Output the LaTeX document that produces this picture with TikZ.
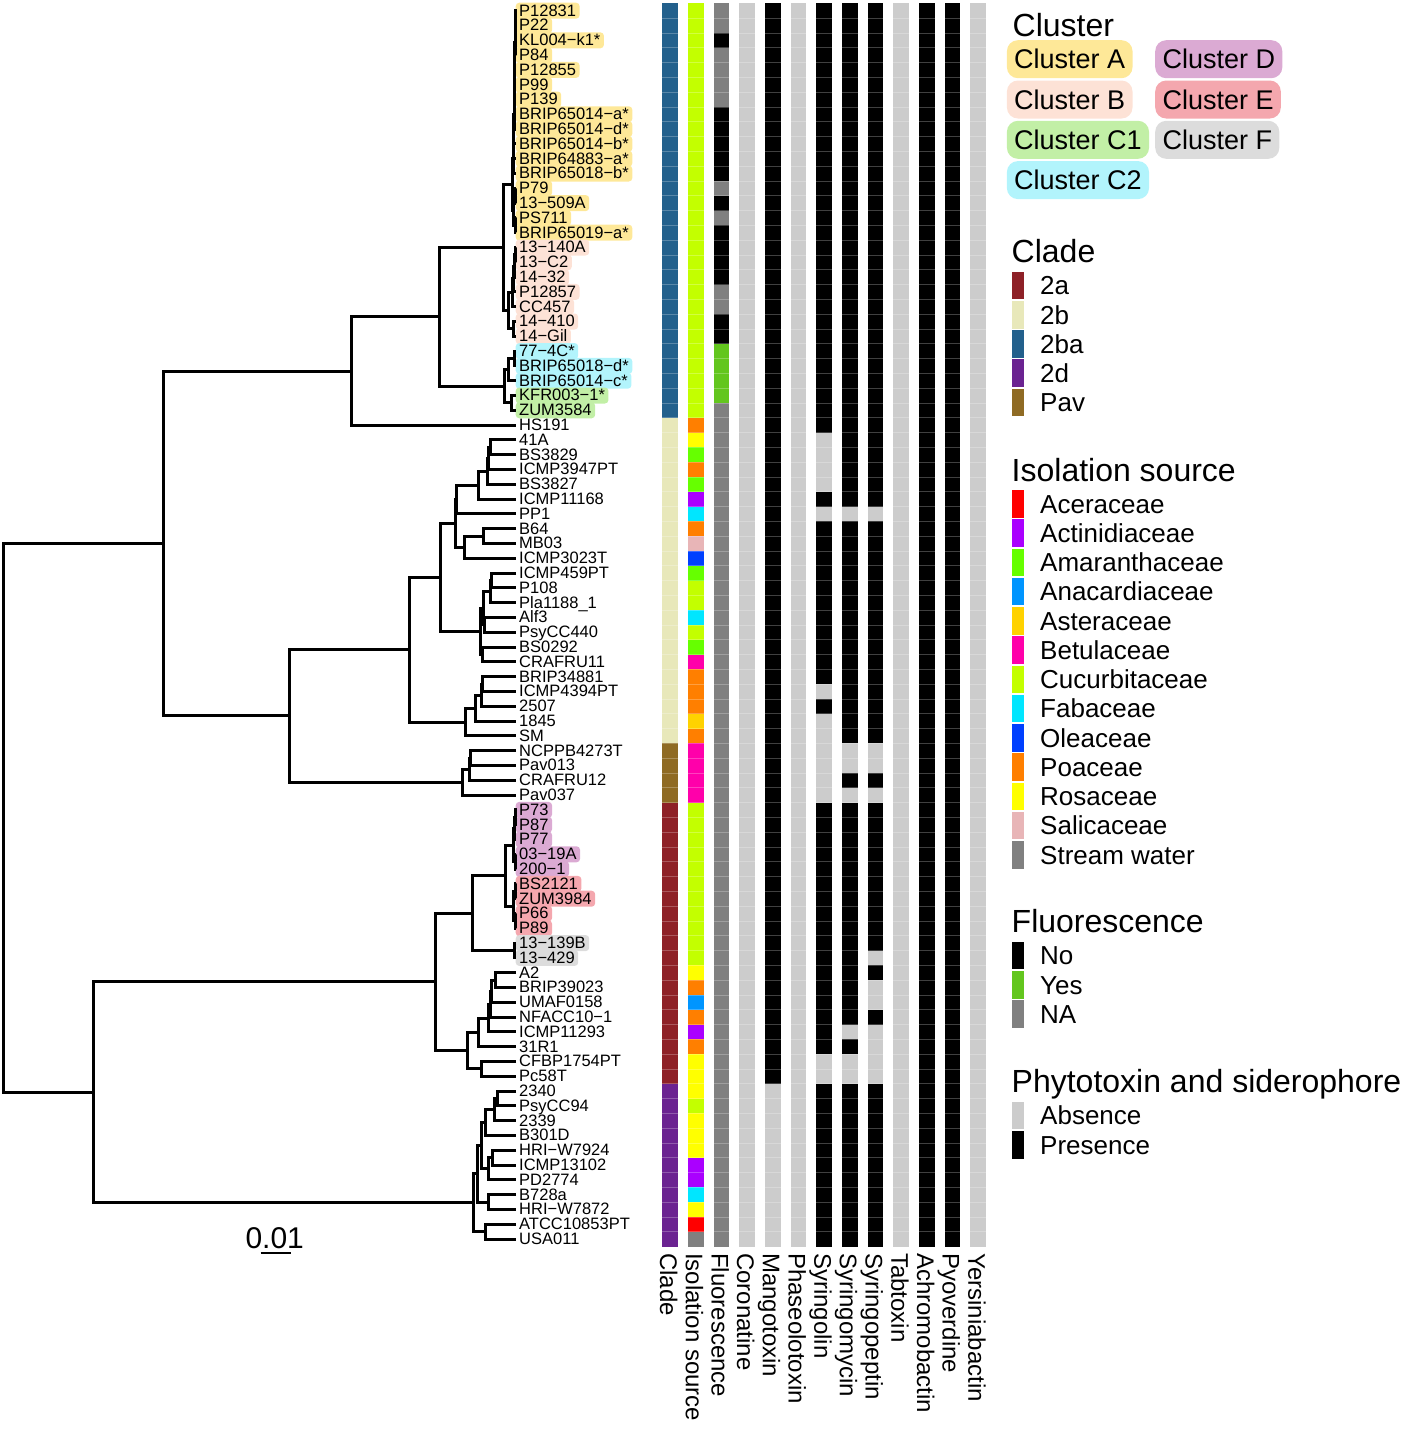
\documentclass[tikz,border=0pt]{standalone}
\usepackage{fontspec}
\setmainfont{Liberation Sans}
\usetikzlibrary{calc}
% cluster highlights
\definecolor{hlA}{HTML}{FEE898}
\definecolor{hlB}{HTML}{FDE2D6}
\definecolor{hlCa}{HTML}{C2EFA6}
\definecolor{hlCb}{HTML}{B2F4FC}
\definecolor{hlD}{HTML}{DBAAD3}
\definecolor{hlE}{HTML}{F4A7AE}
\definecolor{hlF}{HTML}{DCDCDC}
% clade
\definecolor{cdA}{HTML}{8E2127}
\definecolor{cdB}{HTML}{E8E8BA}
\definecolor{cdBA}{HTML}{23608C}
\definecolor{cdD}{HTML}{6B2391}
\definecolor{cdPav}{HTML}{8F6B24}
% isolation source
\definecolor{srcAce}{HTML}{FF0000}
\definecolor{srcAct}{HTML}{AA00FF}
\definecolor{srcAma}{HTML}{66FF00}
\definecolor{srcAna}{HTML}{0095FF}
\definecolor{srcAst}{HTML}{FFD200}
\definecolor{srcBet}{HTML}{FF00AA}
\definecolor{srcCuc}{HTML}{C3FF00}
\definecolor{srcFab}{HTML}{00E6FF}
\definecolor{srcOle}{HTML}{0040FF}
\definecolor{srcPoa}{HTML}{FF7F00}
\definecolor{srcRos}{HTML}{FFFF00}
\definecolor{srcSal}{HTML}{E8B5B7}
\definecolor{srcStr}{HTML}{808080}
% fluorescence, toxins
\definecolor{flNo}{HTML}{000000}
\definecolor{flYes}{HTML}{63C61E}
\definecolor{flNA}{HTML}{808080}
\definecolor{txAbs}{HTML}{CCCCCC}
\definecolor{txPre}{HTML}{000000}
\tikzset{
  branch/.style={line width=3pt,line join=miter},
  leaf/.style={anchor=west,font=\fontsize{16.5}{18}\selectfont,inner xsep=3.5pt,inner ysep=1.5pt,text height=11.8pt,text depth=1.2pt,rounded corners=3.5pt},
  collbl/.style={rotate=-90,anchor=west,font=\fontsize{24}{26}\selectfont,inner sep=0pt,text height=17.2pt,text depth=0pt},
  ttl/.style={anchor=base west,font=\fontsize{32}{34}\selectfont,inner sep=0pt},
  itm/.style={anchor=west,font=\fontsize{26}{28}\selectfont,inner sep=0pt,text height=18.6pt,text depth=0pt},
  key/.style={anchor=west,minimum width=11.6pt,minimum height=27.6pt,inner sep=0pt},
  pill/.style={anchor=west,rounded corners=11pt,minimum height=38pt,inner xsep=7.3pt,inner ysep=0pt,font=\fontsize{27}{30}\selectfont,text height=19.3pt,text depth=0pt},
  sep/.style={draw=white,draw opacity=0.25,line width=0.7pt},
}
% internal node of the tree: name, x, two children
\newcommand\clade[4]{%
  \path ($(#3)!0.5!(#4)$) coordinate (#1m);
  \coordinate (#1) at (#2,0 |- #1m);
  \draw[branch] (#3) -| (#1) |- (#4);
}
% heatmap run: column, first row, last row, colour
\newcommand\hmseg[4]{\fill[fill=#4] ({662.3+(#1-1)*25.68},{3.3+(#2-1)*14.8}) rectangle ++(15.6,{(#3-#2+1)*14.8});}
\begin{document}
\begin{tikzpicture}[x=1pt,y=-1pt]
  \useasboundingbox (0,0) rectangle (1416,1430);
  % heatmap
  \foreach \a/\b/\cc in {1/28/cdBA,29/50/cdB,51/54/cdPav,55/73/cdA,74/84/cdD} {\hmseg{1}{\a}{\b}{\cc}}
  \foreach \a/\b/\cc in {1/28/srcCuc,29/29/srcPoa,30/30/srcRos,31/31/srcAma,32/32/srcPoa,33/33/srcAma,34/34/srcAct,35/35/srcFab,36/36/srcPoa,37/37/srcSal,38/38/srcOle,39/39/srcAma,40/41/srcCuc,42/42/srcFab,43/43/srcCuc,44/44/srcAma,45/45/srcBet,46/48/srcPoa,49/49/srcAst,50/50/srcPoa,51/54/srcBet,55/65/srcCuc,66/66/srcRos,67/67/srcPoa,68/68/srcAna,69/69/srcPoa,70/70/srcAct,71/71/srcPoa,72/74/srcRos,75/75/srcCuc,76/78/srcRos,79/80/srcAct,81/81/srcFab,82/82/srcRos,83/83/srcAce,84/84/srcStr} {\hmseg{2}{\a}{\b}{\cc}}
  \foreach \a/\b/\cc in {1/2/flNA,3/3/flNo,4/7/flNA,8/12/flNo,13/13/flNA,14/14/flNo,15/15/flNA,16/19/flNo,20/21/flNA,22/23/flNo,24/27/flYes,28/84/flNA} {\hmseg{3}{\a}{\b}{\cc}}
  \foreach \k/\cc in {4/txAbs,5/txPre,6/txAbs,7/txPre,8/txPre,9/txPre,10/txAbs,11/txPre,12/txPre,13/txAbs} {\hmseg{\k}{1}{84}{\cc}}
  \foreach \k/\a/\b in {5/74/84,7/30/33,7/35/35,7/47/47,7/49/54,7/72/73,8/35/35,8/51/52,8/54/54,8/70/70,8/72/73,9/35/35,9/51/52,9/54/54,9/65/65,9/67/68,9/70/73} {\hmseg{\k}{\a}{\b}{txAbs}}
  \foreach \k in {1,...,13} \foreach \r in {1,...,83} \draw[sep] ({662.3+(\k-1)*25.68},{3.3+\r*14.8}) -- ++(15.6,0);
  % tips and labels
  \foreach \nm/\cl [count=\i] in {P12831/A,P22/A,KL004−k1*/A,P84/A,P12855/A,P99/A,P139/A,BRIP65014−a*/A,BRIP65014−d*/A,BRIP65014−b*/A,BRIP64883−a*/A,BRIP65018−b*/A,P79/A,13−509A/A,PS711/A,BRIP65019−a*/A,13−140A/B,13−C2/B,14−32/B,P12857/B,CC457/B,14−410/B,14−Gil/B,77−4C*/Cb,BRIP65018−d*/Cb,BRIP65014−c*/Cb,KFR003−1*/Ca,ZUM3584/Ca,HS191/N,41A/N,BS3829/N,ICMP3947PT/N,BS3827/N,ICMP11168/N,PP1/N,B64/N,MB03/N,ICMP3023T/N,ICMP459PT/N,P108/N,Pla1188\_1/N,Alf3/N,PsyCC440/N,BS0292/N,CRAFRU11/N,BRIP34881/N,ICMP4394PT/N,2507/N,1845/N,SM/N,NCPPB4273T/N,Pav013/N,CRAFRU12/N,Pav037/N,P73/D,P87/D,P77/D,03−19A/D,200−1/D,BS2121/E,ZUM3984/E,P66/E,P89/E,13−139B/F,13−429/F,A2/N,BRIP39023/N,UMAF0158/N,NFACC10−1/N,ICMP11293/N,31R1/N,CFBP1754PT/N,Pc58T/N,2340/N,PsyCC94/N,2339/N,B301D/N,HRI−W7924/N,ICMP13102/N,PD2774/N,B728a/N,HRI−W7872/N,ATCC10853PT/N,USA011/N} {
    \pgfmathsetmacro\yy{10.7+(\i-1)*14.8}
    \coordinate (t\i) at (516,\yy);
    \if\cl N
      \node[leaf] (l\i) at (515.5,\yy) {\nm};
    \else
      \node[leaf,fill=hl\cl] (l\i) at (515.5,\yy) {\nm};
    \fi
  }
  % clusters A and B
  \clade{a1}{515.5}{t1}{t2}
  \clade{a2}{515.3}{a1}{t3}
  \clade{a3}{515.1}{a2}{t4}
  \clade{a4}{514.9}{a3}{t5}
  \clade{a5}{514.7}{a4}{t6}
  \clade{a6}{514.5}{a5}{t7}
  \clade{a7}{514.3}{a6}{t8}
  \clade{a8}{514.1}{a7}{t9}
  \clade{a9}{513.9}{a8}{t10}
  \clade{a10}{513.7}{a9}{t11}
  \clade{a11}{513.5}{a10}{t12}
  \clade{a12}{515}{t13}{t14}
  \clade{a13}{515}{t15}{t16}
  \clade{a14}{513.5}{a12}{a13}
  \clade{clA}{512.5}{a11}{a14}
  \clade{b1}{515}{t17}{t18}
  \clade{b2}{514.5}{b1}{t19}
  \clade{b3}{513.5}{b2}{t20}
  \clade{b4}{512}{b3}{t21}
  \clade{b5}{513}{t22}{t23}
  \clade{clB}{508.5}{b4}{b5}
  \clade{nD}{503.3}{clA}{clB}
  % clusters C1, C2
  \clade{c1}{514}{t24}{t25}
  \clade{c2}{508.3}{c1}{t26}
  \clade{c3}{511.5}{t27}{t28}
  \clade{nE}{504}{c2}{c3}
  \clade{nC}{439.3}{nD}{nE}
  \clade{nB}{351.8}{nC}{t29}
  % clade 2b
  \clade{g1}{490}{t30}{t31}
  \clade{g2}{488}{g1}{t32}
  \clade{g3}{487}{g2}{t33}
  \clade{g4}{478.3}{g3}{t34}
  \clade{g5}{456.5}{g4}{t35}
  \clade{g6}{483.3}{t36}{t37}
  \clade{g7}{464.3}{g6}{t38}
  \clade{nI}{455}{g5}{g7}
  \clade{g8}{491.7}{t39}{t40}
  \clade{g9}{490}{g8}{t41}
  \clade{g10}{484.3}{t42}{t43}
  \clade{g11}{483.3}{g9}{g10}
  \clade{g12}{482.3}{t44}{t45}
  \clade{nJ}{480}{g11}{g12}
  \clade{nH}{440.7}{nI}{nJ}
  \clade{k1}{482.3}{t46}{t47}
  \clade{k2}{481}{k1}{t48}
  \clade{k3}{475}{k2}{t49}
  \clade{nK}{465}{k3}{t50}
  \clade{nG}{409.3}{nH}{nK}
  % Pav
  \clade{p1}{470.7}{t51}{t52}
  \clade{p2}{469.3}{p1}{t53}
  \clade{nL}{462.7}{p2}{t54}
  \clade{nF}{289.3}{nG}{nL}
  \clade{nA}{163.6}{nB}{nF}
  % clusters D, E, F and clade 2a
  \clade{d1}{515.5}{t55}{t56}
  \clade{d2}{514.5}{d1}{t57}
  \clade{d3}{515}{t58}{t59}
  \clade{clD}{513}{d2}{d3}
  \clade{e1}{515}{t60}{t61}
  \clade{e2}{515}{t62}{t63}
  \clade{clE}{513.5}{e1}{e2}
  \clade{o1}{505.5}{clD}{clE}
  \clade{clF}{514}{t64}{t65}
  \clade{nO}{472.6}{o1}{clF}
  \clade{q1}{495.8}{t66}{t67}
  \clade{q2}{491.5}{q1}{t68}
  \clade{q3}{490.7}{q2}{t69}
  \clade{q4}{488.6}{q3}{t70}
  \clade{q5}{478}{q4}{t71}
  \clade{q6}{481}{t72}{t73}
  \clade{nP}{467.5}{q5}{q6}
  \clade{nN}{435.9}{nO}{nP}
  % clade 2d
  \clade{r1}{497.9}{t74}{t75}
  \clade{r2}{494.5}{r1}{t76}
  \clade{r3}{485.2}{r2}{t77}
  \clade{r4}{492.8}{t78}{t79}
  \clade{r5}{488.6}{r4}{t80}
  \clade{r6}{481}{r3}{r5}
  \clade{r7}{488.6}{t81}{t82}
  \clade{r8}{477.5}{r6}{r7}
  \clade{r9}{485.2}{t83}{t84}
  \clade{nQ}{473.4}{r8}{r9}
  \clade{nM}{93.7}{nN}{nQ}
  \clade{root}{3.6}{nA}{nM}
  % column names
  \foreach \nm [count=\k] in {Clade,Isolation source,Fluorescence,Coronatine,Mangotoxin,Phaseolotoxin,Syringolin,Syringomycin,Syringopeptin,Tabtoxin,Achromobactin,Pyoverdine,Yersiniabactin}
    \node[collbl] (cn\k) at ({662.3+(\k-1)*25.68+6.5},1253) {\nm};
  % legend: cluster
  \node[ttl] (tCl) at (1012.5,36) {Cluster};
  \foreach \nm/\cl/\xx/\yy in {A/A/1006.7/59.2,B/B/1006.7/99.5,C1/Ca/1006.7/139.8,C2/Cb/1006.7/180.1,D/D/1155/59.2,E/E/1155/99.5,F/F/1155/139.8}
    \node[pill,fill=hl\cl] (k\cl) at (\xx,\yy) {Cluster \nm};
  % legend: clade
  \node[ttl] (tCd) at (1011.5,262) {Clade};
  \foreach \nm/\cc [count=\k] in {2a/cdA,2b/cdB,2ba/cdBA,2d/cdD,Pav/cdPav} {
    \node[key,fill=\cc] (kc\k) at (1011.7,{285.5+(\k-1)*29.2}) {};
    \node[itm] (ic\k) at (1040,{285.5+(\k-1)*29.2}) {\nm};
  }
  % legend: isolation source
  \node[ttl] (tIs) at (1011.5,481) {Isolation source};
  \foreach \nm/\cc [count=\k] in {Aceraceae/srcAce,Actinidiaceae/srcAct,Amaranthaceae/srcAma,Anacardiaceae/srcAna,Asteraceae/srcAst,Betulaceae/srcBet,Cucurbitaceae/srcCuc,Fabaceae/srcFab,Oleaceae/srcOle,Poaceae/srcPoa,Rosaceae/srcRos,Salicaceae/srcSal,Stream water/srcStr} {
    \node[key,fill=\cc] (ks\k) at (1011.7,{503.8+(\k-1)*29.25}) {};
    \node[itm] (is\k) at (1040,{503.8+(\k-1)*29.25}) {\nm};
  }
  % legend: fluorescence
  \node[ttl] (tFl) at (1011.5,932) {Fluorescence};
  \foreach \nm/\cc [count=\k] in {No/flNo,Yes/flYes,NA/flNA} {
    \node[key,fill=\cc] (kf\k) at (1011.7,{955.5+(\k-1)*29.3}) {};
    \node[itm] (if\k) at (1040,{955.5+(\k-1)*29.3}) {\nm};
  }
  % legend: toxins
  \node[ttl] (tTx) at (1011.5,1092) {Phytotoxin and siderophore};
  \foreach \nm/\cc [count=\k] in {Absence/txAbs,Presence/txPre} {
    \node[key,fill=\cc] (kt\k) at (1011.7,{1115.5+(\k-1)*29.3}) {};
    \node[itm] (it\k) at (1040,{1115.5+(\k-1)*29.3}) {\nm};
  }
  % scale bar
  \node[anchor=base west,font=\fontsize{30}{32}\selectfont,inner sep=0pt] (sbt) at (245.3,1248.3) {0.01};
  \coordinate (sb1) at (260.7,1252.5);
  \coordinate (sb2) at (291,1252.5);
  \draw[line width=2pt] (sb1) -- (sb2);
\end{tikzpicture}
\end{document}
